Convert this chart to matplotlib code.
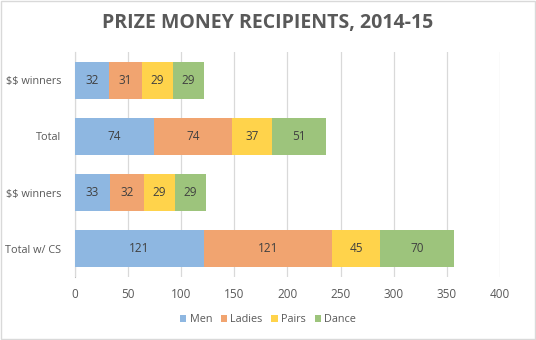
import numpy as np
import matplotlib.pyplot as plt
from matplotlib.patches import Rectangle

# data, top row first
categories = ['$$ winners', 'Total', '$$ winners', 'Total w/ CS']
men    = [32, 74, 33, 121]
ladies = [31, 74, 32, 121]
pairs  = [29, 37, 29, 45]
dance  = [29, 51, 29, 70]
series_names = ['Men', 'Ladies', 'Pairs', 'Dance']
x_ticks = [0, 50, 100, 150, 200, 250, 300, 350, 400]

colors = ['#8EB7E1', '#F1A470', '#FFD34B', '#9DC47C']
text_grey = '#595959'

plt.rcParams['font.family'] = ['Open Sans', 'DejaVu Sans']
plt.rcParams['text.parse_math'] = False

fig = plt.figure(figsize=(5.36, 3.4), dpi=100)
ax = fig.add_axes([75 / 536, 1 - 277 / 340, 425 / 536, 225 / 340])

y = np.arange(len(categories))
left = np.zeros(len(categories))
for name, vals, col in zip(series_names, [men, ladies, pairs, dance], colors):
    vals = np.array(vals, dtype=float)
    bars = ax.barh(y, vals, left=left, height=0.66, color=col, label=name, zorder=2)
    for b, v in zip(bars, vals):
        ax.text(b.get_x() + b.get_width() / 2, b.get_y() + b.get_height() / 2,
                f'{int(v)}', ha='center', va='center', fontsize=8.5,
                color='#404040', zorder=3)
    left += vals

ax.set_ylim(len(categories) - 0.5, -0.5)
ax.set_yticks(y)
ax.set_yticklabels(categories, fontsize=7.8, color=text_grey)
ax.set_xlim(0, 400)
ax.set_xticks(x_ticks)
ax.set_xticklabels([str(t) for t in x_ticks], fontsize=8.5, color=text_grey)
ax.tick_params(length=0, pad=8)
ax.tick_params(axis='y', pad=10)
ax.grid(axis='x', color='#D9D9D9', linewidth=0.9, zorder=0)
for s in ['top', 'right', 'bottom']:
    ax.spines[s].set_visible(False)
ax.spines['left'].set_color('#BFBFBF')
ax.spines['left'].set_zorder(1)

fig.text(0.5, 1 - 23 / 340, 'PRIZE MONEY RECIPIENTS, 2014-15', ha='center', va='center',
         fontsize=14, fontweight='bold', color=text_grey)

fig.legend(loc='center', bbox_to_anchor=(0.5, 1 - 320 / 340), ncol=4, frameon=False,
           fontsize=7.8, labelcolor=text_grey, handlelength=0.6, handleheight=0.6,
           handletextpad=0.3, columnspacing=0.8)

fig.add_artist(Rectangle((0.001, 0.002), 0.997, 0.995, transform=fig.transFigure,
                         fill=False, edgecolor='#D9D9D9', linewidth=1))

fig.savefig('out.png', dpi=100)
